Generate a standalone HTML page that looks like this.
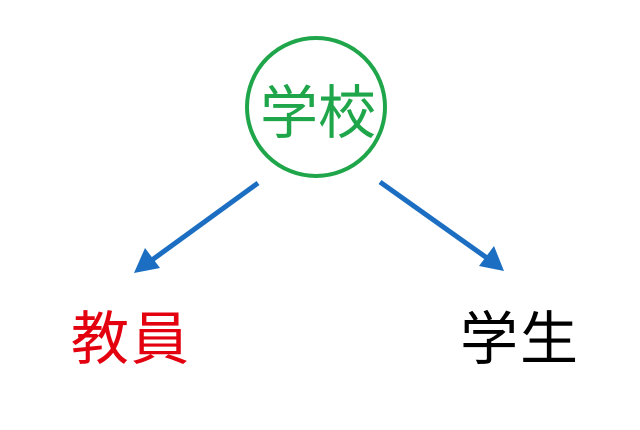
<!DOCTYPE html>
<html><head><meta charset="utf-8"><style>
body{margin:0;width:640px;height:425px;background:#fff;overflow:hidden}
</style></head><body>
<svg width="640" height="425" xmlns="http://www.w3.org/2000/svg">
<circle cx="316" cy="107" r="69" fill="none" stroke="#1fa64a" stroke-width="4"/>
<text x="318" y="133" font-family="Liberation Sans, Noto Sans CJK JP, sans-serif" font-size="58" fill="#1fa64a" text-anchor="middle">学校</text>
<line x1="258" y1="183" x2="152" y2="260" stroke="#1b6ec2" stroke-width="5"/>
<polygon points="134,273 145,248 160,268" fill="#1b6ec2"/>
<line x1="380" y1="182" x2="487" y2="258" stroke="#1b6ec2" stroke-width="5"/>
<polygon points="504,271 479,266 494,246" fill="#1b6ec2"/>
<text x="131" y="359" font-family="Liberation Sans, Noto Sans CJK JP, sans-serif" font-size="58" fill="#e3000f" text-anchor="middle" letter-spacing="2">教員</text>
<text x="520" y="359" font-family="Liberation Sans, Noto Sans CJK JP, sans-serif" font-size="58" fill="#000" text-anchor="middle" letter-spacing="2">学生</text>
</svg>
</body></html>
